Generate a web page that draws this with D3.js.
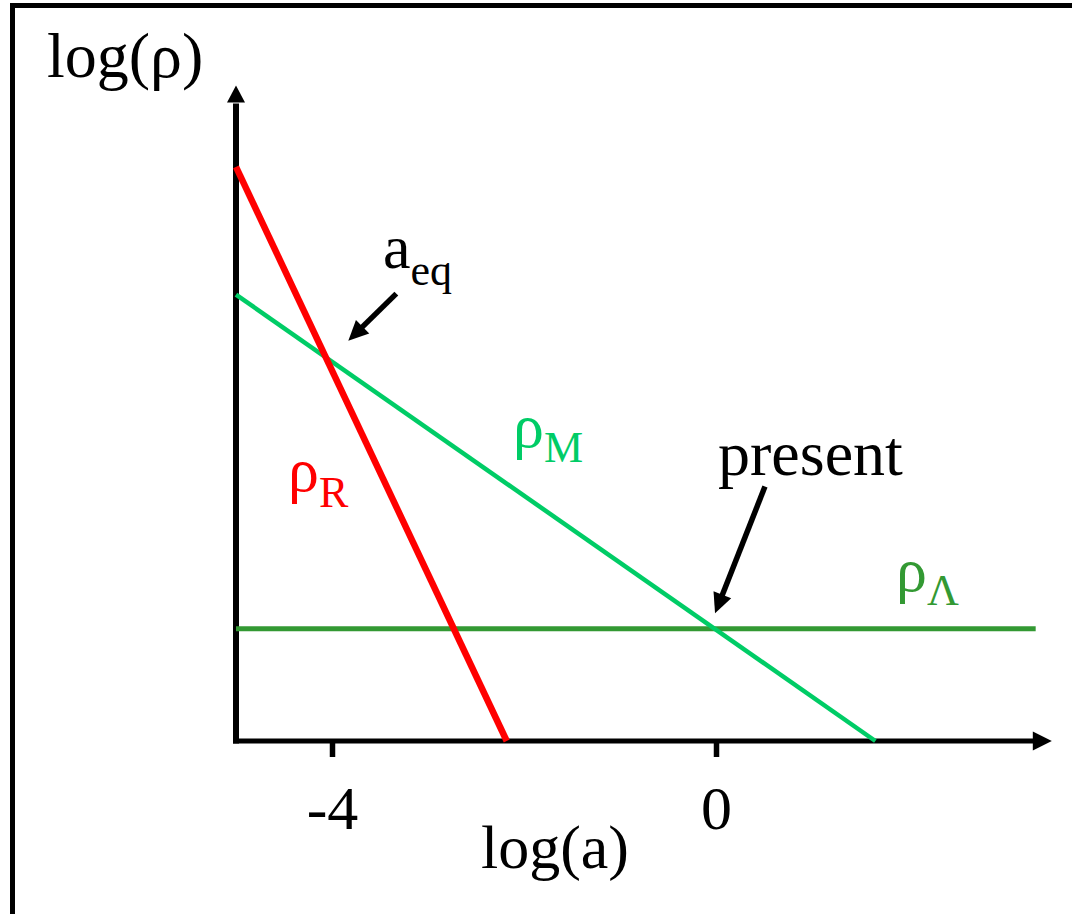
<!DOCTYPE html>
<html>
<head>
<meta charset="utf-8">
<script src="https://cdn.jsdelivr.net/npm/d3@7"></script>
<style>
  html, body { margin: 0; padding: 0; background: #fff; }
  svg { display: block; }
  text { font-family: "Liberation Serif", "Times New Roman", serif; }
</style>
</head>
<body>
<svg id="chart" width="1072" height="914"></svg>
<script>
// Density components vs. scale factor (log-log, schematic)
const tickValues = [-4, 0];
const tickLabels = ["-4", "0"];
const rhoR = [[-5, 5.98], [-2.18, 0]];        // radiation
const rhoM = [[-5, 4.65], [1.66, 0]];         // matter
const rhoLambda = [[-5, 1.17], [3.33, 1.17]]; // cosmological constant
const aeqArrow = [[-3.33, 4.66], [-3.83, 4.17]];
const presentArrow = [[0.51, 2.65], [-0.01, 1.33]];

const svg = d3.select("#chart");
const W = 1072, H = 914;

const x = d3.scaleLinear().domain([-5, 3.3]).range([236, 1032.8]);
const y = d3.scaleLinear().domain([0, 6.65]).range([741, 102.6]);

// frame
svg.append("path")
  .attr("d", `M12.5,${H} V5.5 H${W}`)
  .attr("fill", "none").attr("stroke", "#000").attr("stroke-width", 5);

function arrowHead(g, x0, y0, x1, y1, len, half) {
  const dx = x1 - x0, dy = y1 - y0, L = Math.hypot(dx, dy);
  const ux = dx / L, uy = dy / L;
  const bx = x1 - ux * len, by = y1 - uy * len;
  g.append("path")
    .attr("d", `M${x1},${y1} L${bx - uy * half},${by + ux * half} L${bx + uy * half},${by - ux * half} Z`)
    .attr("fill", "#000");
  return [bx + ux * 1, by + uy * 1];
}

// axes
const axes = svg.append("g");
const [x0, x1] = x.range();
const [yb, yt] = y.range();
axes.append("line").attr("x1", x0 - 3).attr("x2", x1 + 1).attr("y1", yb).attr("y2", yb)
  .attr("stroke", "#000").attr("stroke-width", 5);
axes.append("line").attr("x1", x0).attr("x2", x0).attr("y1", yb + 2.5).attr("y2", yt + 1)
  .attr("stroke", "#000").attr("stroke-width", 6);
arrowHead(axes, x1, yb, x1 + 19, yb, 19, 9.5);
arrowHead(axes, x0, yt, x0, yt - 17, 17, 9);

const xAxis = d3.axisBottom(x)
  .tickValues(tickValues)
  .tickFormat((d, i) => tickLabels[i])
  .tickSize(16).tickPadding(0);
const gx = svg.append("g").attr("transform", `translate(0,${yb})`).call(xAxis);
gx.select(".domain").remove();
gx.selectAll(".tick line").attr("stroke", "#000").attr("stroke-width", 5.5);
gx.selectAll(".tick text")
  .attr("dy", null).attr("y", 88)
  .attr("fill", "#000")
  .style("font-family", '"Liberation Serif", serif')
  .style("font-size", "62px");

// density lines
const line = d3.line().x(d => x(d[0])).y(d => y(d[1]));
svg.append("path").datum(rhoLambda).attr("d", line)
  .attr("fill", "none").attr("stroke", "#339933").attr("stroke-width", 5);
svg.append("path").datum(rhoM).attr("d", line)
  .attr("fill", "none").attr("stroke", "#00cc66").attr("stroke-width", 4.5);
svg.append("path").datum(rhoR).attr("d", line)
  .attr("fill", "none").attr("stroke", "#ff0000").attr("stroke-width", 6.5);

// annotation arrows
function annot(pts) {
  const g = svg.append("g");
  const [p0, p1] = pts.map(p => [x(p[0]), y(p[1])]);
  const base = arrowHead(g, p0[0], p0[1], p1[0], p1[1], 20, 9.5);
  g.append("line").attr("x1", p0[0]).attr("y1", p0[1]).attr("x2", base[0]).attr("y2", base[1])
    .attr("stroke", "#000").attr("stroke-width", 5.5);
}
annot(aeqArrow);
annot(presentArrow);

// labels
function subLabel(px, py, main, sub, color, subDy) {
  const t = svg.append("text").attr("x", px).attr("y", py).attr("fill", color)
    .style("font-size", "62px");
  t.append("tspan").text(main);
  t.append("tspan").attr("dy", subDy).style("font-size", "44px").text(sub);
}
subLabel(383, 268, "a", "eq", "#000", 17);
subLabel(513, 447, "ρ", "M", "#00cc66", 15);
subLabel(288, 491, "ρ", "R", "#ff0000", 16);
subLabel(896, 591, "ρ", "Λ", "#339933", 14);

svg.append("text").attr("x", 718).attr("y", 475).attr("fill", "#000")
  .style("font-size", "64px").text("present");

svg.append("text").attr("x", 47).attr("y", 77).attr("fill", "#000")
  .style("font-size", "64px").text("log(ρ)");
svg.append("text").attr("x", 555).attr("y", 868).attr("text-anchor", "middle").attr("fill", "#000")
  .style("font-size", "62px").text("log(a)");
</script>
</body>
</html>
